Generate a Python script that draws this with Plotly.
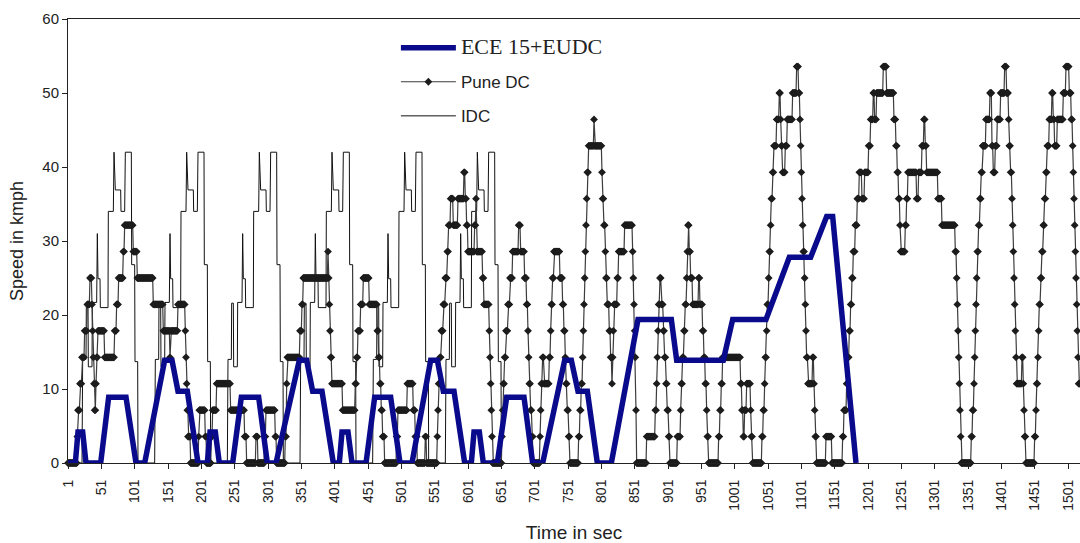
import numpy as np
import plotly.graph_objects as go

# ---------------------------------------------------------------
# ECE 15 + EUDC (speed in m/s), breakpoints of the piecewise profile
# ---------------------------------------------------------------
ece_t = [1, 12, 16, 23, 28, 50, 62, 88, 103, 116, 146, 157, 166, 180, 196,
         210, 214, 222, 228, 248, 261, 287, 300, 313, 348, 359, 368, 382, 399,
         408, 412, 421, 427, 448, 461, 485, 499, 517, 545, 555, 564, 580, 596,
         606, 610, 618, 624, 645, 659, 685, 698, 713, 746, 756, 766, 780, 795,
         816, 856, 906, 914, 984, 998, 1048, 1083, 1115, 1139, 1148, 1183]
ece_v = [0, 0, 4.2, 4.2, 0, 0, 8.9, 8.9, 0, 0, 13.9, 13.9, 9.7, 9.7, 0,
         0, 4.2, 4.2, 0, 0, 8.9, 8.9, 0, 0, 13.9, 13.9, 9.7, 9.7, 0,
         0, 4.2, 4.2, 0, 0, 8.9, 8.9, 0, 0, 13.9, 13.9, 9.7, 9.7, 0,
         0, 4.2, 4.2, 0, 0, 8.9, 8.9, 0, 0, 13.9, 13.9, 9.7, 9.7, 0,
         0, 19.4, 19.4, 13.9, 13.9, 19.4, 19.4, 27.8, 27.8, 33.3, 33.3, 0]

# ---------------------------------------------------------------
# IDC: one 108 s cycle (time within cycle, km/h), run six times
# ---------------------------------------------------------------
idc_cycle_tau = [0, 21, 22, 27, 27.5, 30, 30.5, 36, 36.5, 43, 44, 45, 48, 48.5, 60,
                 60.5, 68, 69, 71, 79, 79.5, 85, 86, 95, 95.5, 100, 100.5, 104.5, 105, 108]
idc_cycle_v = [0, 0, 14, 14, 21.6, 21.6, 13, 13, 21.7, 21.7, 31, 24.9, 24.9, 21, 21,
               34, 34, 42, 36.9, 36.9, 34, 34, 42, 42, 26.8, 26.8, 13.7, 13.7, 0, 0]
idc_cycle_starts = [1, 110, 219, 328, 437, 546]

# ---------------------------------------------------------------
# Pune DC: 1 Hz record, stored as runs (start second, speed level);
# one level = 25/7 km/h
# ---------------------------------------------------------------
PUNE_STEP = 25 / 7
PUNE_END = 1519
pune_run_start = [
    1, 15, 16, 19, 22, 26, 30, 34, 37, 38, 39, 40, 41, 43, 44, 46, 56, 71, 74, 77,
    84, 86, 99, 105, 129, 144, 154, 155, 166, 177, 178, 179, 180, 181, 185, 197, 198, 207, 209, 216,
    218, 224, 245, 266, 269, 283, 286, 296, 298, 312, 314, 327, 329, 330, 349, 352, 354, 391, 392, 393,
    394, 395, 397, 413, 432, 434, 436, 440, 444, 453, 465, 467, 469, 471, 473, 476, 494, 496, 510, 519,
    522, 525, 537, 539, 555, 556, 557, 559, 561, 564, 567, 570, 572, 575, 579, 586, 595, 597, 599, 601,
    611, 613, 614, 623, 625, 633, 634, 635, 636, 637, 638, 652, 653, 654, 656, 658, 661, 664, 668, 677,
    680, 686, 689, 691, 692, 693, 695, 697, 699, 709, 710, 711, 713, 715, 723, 725, 726, 728, 730, 739,
    743, 745, 747, 748, 750, 752, 754, 767, 769, 771, 773, 774, 775, 776, 777, 778, 779, 780, 782, 790,
    791, 802, 803, 805, 807, 808, 810, 813, 815, 817, 818, 819, 820, 825, 827, 836, 848, 849, 850, 851,
    852, 853, 854, 869, 882, 884, 885, 886, 887, 889, 891, 894, 896, 898, 900, 902, 904, 915, 920, 921,
    923, 925, 927, 929, 930, 931, 933, 935, 938, 947, 949, 953, 955, 957, 959, 960, 962, 977, 979, 981,
    983, 1010, 1012, 1014, 1016, 1019, 1025, 1026, 1028, 1042, 1044, 1046, 1047, 1049, 1050, 1052, 1053, 1055, 1056, 1058,
    1060, 1064, 1068, 1070, 1071, 1073, 1077, 1080, 1088, 1094, 1097, 1099, 1100, 1101, 1102, 1103, 1104, 1106, 1107, 1108,
    1109, 1111, 1118, 1120, 1121, 1122, 1124, 1138, 1147, 1163, 1165, 1169, 1171, 1173, 1175, 1177, 1179, 1182, 1185, 1188,
    1192, 1196, 1202, 1205, 1209, 1211, 1214, 1224, 1229, 1240, 1243, 1245, 1247, 1249, 1250, 1257, 1259, 1261, 1274, 1277,
    1282, 1285, 1287, 1289, 1306, 1312, 1332, 1334, 1335, 1336, 1337, 1338, 1339, 1340, 1341, 1356, 1358, 1360, 1361, 1362,
    1363, 1364, 1365, 1367, 1369, 1371, 1373, 1378, 1384, 1387, 1389, 1392, 1395, 1400, 1406, 1409, 1412, 1413, 1415, 1417,
    1418, 1419, 1420, 1421, 1422, 1423, 1424, 1432, 1434, 1435, 1436, 1438, 1451, 1453, 1454, 1456, 1457, 1458, 1460, 1462,
    1464, 1466, 1468, 1470, 1473, 1477, 1479, 1481, 1485, 1494, 1498, 1503, 1506, 1508, 1509, 1510, 1511, 1512, 1513, 1514,
    1515, 1516, 1517]
pune_run_level = [
    0, 1, 2, 3, 4, 5, 6, 7, 6, 5, 4, 3, 2, 3, 4, 5, 4, 5, 6, 7,
    8, 9, 8, 7, 6, 5, 4, 5, 6, 5, 4, 3, 2, 1, 0, 1, 2, 1, 0, 1,
    2, 3, 2, 1, 0, 1, 0, 1, 2, 1, 0, 1, 3, 4, 5, 6, 7, 8, 7, 6,
    5, 4, 3, 2, 3, 4, 5, 6, 7, 6, 5, 4, 3, 2, 1, 0, 1, 2, 3, 2,
    1, 0, 1, 0, 1, 2, 3, 4, 5, 6, 7, 8, 9, 10, 9, 10, 11, 10, 9, 8,
    9, 10, 8, 7, 6, 5, 4, 3, 2, 1, 0, 1, 2, 3, 4, 5, 6, 7, 8, 9,
    8, 7, 6, 5, 4, 3, 2, 1, 0, 1, 2, 3, 4, 3, 4, 5, 6, 7, 8, 7,
    6, 5, 4, 3, 2, 1, 0, 1, 2, 3, 4, 5, 6, 7, 8, 9, 10, 11, 12, 13,
    12, 11, 10, 9, 8, 7, 6, 5, 4, 3, 4, 5, 6, 7, 8, 9, 8, 7, 6, 5,
    4, 2, 0, 1, 2, 3, 4, 5, 6, 7, 6, 5, 4, 3, 2, 1, 0, 1, 2, 3,
    4, 5, 6, 7, 8, 9, 8, 7, 6, 7, 6, 5, 4, 3, 2, 1, 0, 1, 2, 3,
    4, 3, 2, 1, 2, 3, 2, 1, 0, 1, 2, 3, 4, 5, 6, 7, 8, 9, 10, 11,
    12, 13, 14, 13, 12, 11, 12, 13, 14, 15, 14, 13, 12, 11, 10, 9, 8, 7, 6, 5,
    4, 3, 4, 3, 2, 1, 0, 1, 0, 1, 2, 3, 4, 5, 6, 7, 8, 9, 10, 11,
    10, 11, 12, 13, 14, 13, 14, 15, 14, 13, 12, 11, 10, 9, 8, 9, 10, 11, 10, 11,
    12, 13, 12, 11, 10, 9, 8, 7, 6, 5, 4, 3, 2, 1, 0, 1, 2, 3, 4, 5,
    6, 7, 8, 9, 10, 11, 12, 13, 14, 12, 11, 12, 13, 14, 15, 14, 13, 12, 11, 10,
    9, 8, 7, 6, 5, 4, 3, 4, 3, 2, 1, 0, 1, 2, 3, 4, 5, 6, 7, 8,
    9, 10, 11, 12, 13, 14, 13, 12, 13, 14, 15, 14, 13, 12, 11, 10, 9, 8, 7, 6,
    5, 4, 3]

x_tick_values = [1, 51, 101, 151, 201, 251, 301, 351, 401, 451, 501, 551, 601, 651, 701, 751,
                 801, 851, 901, 951, 1001, 1051, 1101, 1151, 1201, 1251, 1301, 1351, 1401, 1451, 1501]
x_tick_labels = ["1", "51", "101", "151", "201", "251", "301", "351", "401", "451", "501", "551",
                 "601", "651", "701", "751", "801", "851", "901", "951", "1001", "1051", "1101",
                 "1151", "1201", "1251", "1301", "1351", "1401", "1451", "1501"]

# ---- assemble series -------------------------------------------
idc_t, idc_v = [], []
for start in idc_cycle_starts:
    idc_t += [start + tau for tau in idc_cycle_tau]
    idc_v += idc_cycle_v

run_start = np.array(pune_run_start)
run_len = np.diff(np.append(run_start, PUNE_END + 1))
pune_t = np.arange(1, PUNE_END + 1)
pune_v = np.repeat(np.array(pune_run_level), run_len) * PUNE_STEP

SANS = "Liberation Sans"

fig = go.Figure()
fig.add_trace(go.Scatter(
    x=idc_t, y=idc_v, mode="lines", name="IDC", legendrank=3, legendgroup="c",
    line=dict(color="#111111", width=1), cliponaxis=False))
fig.add_trace(go.Scatter(
    x=pune_t, y=pune_v, mode="lines+markers", name="Pune DC", legendrank=2, legendgroup="b",
    line=dict(color="#3c3c3c", width=1.2),
    marker=dict(symbol="diamond", size=6, color="#1c1c1c"), cliponaxis=False))
fig.add_trace(go.Scatter(
    x=ece_t, y=ece_v, mode="lines", legendrank=1, legendgroup="a",
    name='<span style="font-family:Liberation Serif;font-size:22px">ECE 15+EUDC</span>',
    line=dict(color="#0a0a8c", width=5.5), cliponaxis=False))

fig.update_layout(
    width=1080, height=543,
    margin=dict(l=68, r=0, t=19, b=80),
    paper_bgcolor="white", plot_bgcolor="white",
    font=dict(family=SANS, color="#222222"),
    showlegend=True,
    legend=dict(x=0.324, y=0.975, xanchor="left", yanchor="top",
                bgcolor="rgba(0,0,0,0)", borderwidth=0,
                font=dict(family=SANS, size=17, color="#222222"),
                tracegroupgap=9, itemwidth=55),
    xaxis=dict(range=[1, PUNE_END], tickmode="array", tickvals=x_tick_values,
               ticktext=x_tick_labels, tickangle=-90, ticks="outside", ticklen=5,
               tickcolor="#222222", showline=True, linecolor="#222222", linewidth=1,
               mirror=True, showgrid=False, zeroline=False, ticklabelstandoff=5,
               tickfont=dict(family=SANS, size=14, color="#222222"),
               title=dict(text="Time in sec", font=dict(family=SANS, size=19, color="#222222"),
                          standoff=20)),
    yaxis=dict(range=[0, 60], dtick=10, tick0=0, ticks="outside", ticklen=5,
               tickcolor="#222222", showline=True, linecolor="#222222", linewidth=1,
               showgrid=False, zeroline=False,
               tickfont=dict(family=SANS, size=15, color="#222222"),
               title=dict(text="Speed in kmph", font=dict(family=SANS, size=18, color="#222222"),
                          standoff=14)),
)

fig.write_html("out.html")
